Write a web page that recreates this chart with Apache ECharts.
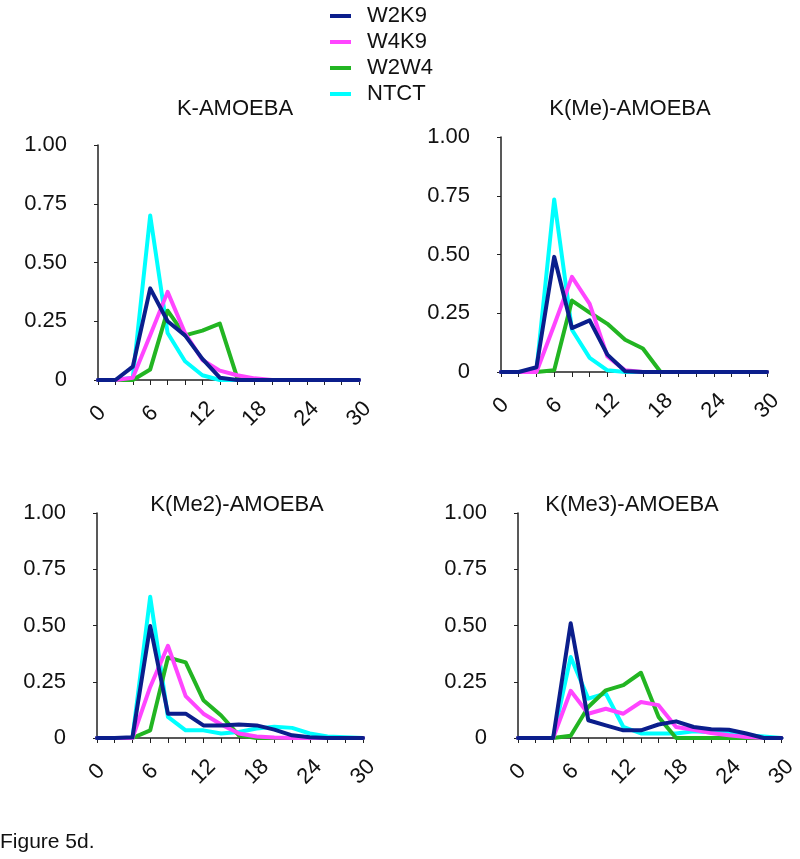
<!DOCTYPE html>
<html>
<head>
<meta charset="utf-8">
<script src="https://cdn.jsdelivr.net/npm/echarts@6/dist/echarts.min.js"></script>
<style>
html,body{margin:0;padding:0;background:#fff;}
#chart{width:800px;height:859px;}
</style>
</head>
<body>
<div id="chart"></div>
<script>
// ---- data ----
var xValues = [0, 2, 4, 6, 8, 10, 12, 14, 16, 18, 20, 22, 24, 26, 28, 30];
var panelTitles = ['K-AMOEBA', 'K(Me)-AMOEBA', 'K(Me2)-AMOEBA', 'K(Me3)-AMOEBA'];
var seriesNames = ['W2K9', 'W4K9', 'W2W4', 'NTCT'];
var yTickLabels = ['0', '0.25', '0.50', '0.75', '1.00'];
var xTickLabels = ['0', '6', '12', '18', '24', '30'];

// K-AMOEBA
var p1_W2K9 = [0, 0, 0.057, 0.39, 0.25, 0.19, 0.09, 0.01, 0, 0, 0, 0, 0, 0, 0, 0];
var p1_W4K9 = [0, 0, 0.01, 0.19, 0.375, 0.2, 0.085, 0.04, 0.02, 0.007, 0, 0, 0, 0, 0, 0];
var p1_W2W4 = [0, 0, 0, 0.045, 0.295, 0.19, 0.21, 0.24, 0.01, 0, 0, 0, 0, 0, 0, 0];
var p1_NTCT = [0, 0, 0.01, 0.70, 0.20, 0.08, 0.02, 0, 0, 0, 0, 0, 0, 0, 0, 0];

// K(Me)-AMOEBA
var p2_W2K9 = [0, 0, 0.02, 0.49, 0.187, 0.22, 0.074, 0.003, 0, 0, 0, 0, 0, 0, 0, 0];
var p2_W4K9 = [0, 0, 0, 0.2, 0.405, 0.29, 0.066, 0.007, 0, 0, 0, 0, 0, 0, 0, 0];
var p2_W2W4 = [0, 0, 0, 0.007, 0.304, 0.253, 0.205, 0.137, 0.10, 0, 0, 0, 0, 0, 0, 0];
var p2_NTCT = [0, 0, 0.007, 0.734, 0.18, 0.06, 0.007, 0, 0, 0, 0, 0, 0, 0, 0, 0];

// K(Me2)-AMOEBA
var p3_W2K9 = [0, 0, 0.003, 0.498, 0.108, 0.108, 0.056, 0.056, 0.06, 0.056, 0.037, 0.012, 0.003, 0, 0, 0];
var p3_W4K9 = [0, 0, 0, 0.227, 0.41, 0.186, 0.108, 0.06, 0.02, 0.007, 0.002, 0, 0, 0, 0, 0];
var p3_W2W4 = [0, 0, 0, 0.034, 0.358, 0.336, 0.168, 0.10, 0.012, 0, 0, 0, 0, 0, 0, 0];
var p3_NTCT = [0, 0, 0, 0.628, 0.094, 0.034, 0.034, 0.02, 0.027, 0.042, 0.05, 0.045, 0.02, 0.007, 0.003, 0];

// K(Me3)-AMOEBA
var p4_W2K9 = [0, 0, 0, 0.51, 0.079, 0.056, 0.034, 0.034, 0.06, 0.074, 0.049, 0.039, 0.037, 0.02, 0, 0];
var p4_W4K9 = [0, 0, 0, 0.21, 0.108, 0.13, 0.108, 0.16, 0.146, 0.049, 0.037, 0.022, 0.012, 0.004, 0, 0];
var p4_W2W4 = [0, 0, 0, 0.01, 0.138, 0.212, 0.235, 0.29, 0.094, 0, 0, 0, 0, 0, 0, 0];
var p4_NTCT = [0, 0, 0, 0.36, 0.175, 0.198, 0.049, 0.02, 0.02, 0.02, 0.03, 0.025, 0.022, 0.012, 0.007, 0];

var panels = [
  {W2K9: p1_W2K9, W4K9: p1_W4K9, W2W4: p1_W2W4, NTCT: p1_NTCT},
  {W2K9: p2_W2K9, W4K9: p2_W4K9, W2W4: p2_W2W4, NTCT: p2_NTCT},
  {W2K9: p3_W2K9, W4K9: p3_W4K9, W2W4: p3_W2W4, NTCT: p3_NTCT},
  {W2K9: p4_W2K9, W4K9: p4_W4K9, W2W4: p4_W2W4, NTCT: p4_NTCT}
];

// ---- styling / layout ----
var colors = {W2K9: '#0b1e8c', W4K9: '#ff45ff', W2W4: '#22b522', NTCT: '#00ffff'};
var drawOrder = ['NTCT', 'W2W4', 'W4K9', 'W2K9'];
var FONT = 'Liberation Sans, Arial, sans-serif';
var FS = 22;
var grids = [
  {left: 98, top: 145, width: 261, height: 235},
  {left: 501, top: 137, width: 266, height: 235},
  {left: 97, top: 513, width: 266, height: 225},
  {left: 518, top: 513, width: 265, height: 225}
];
var titlePos = [
  {cx: 230, top: 93},
  {cx: 625, top: 93},
  {cx: 232, top: 489},
  {cx: 627, top: 489}
];

var axisCol = '#222';
var option = {
  animation: false,
  backgroundColor: '#ffffff',
  textStyle: {fontFamily: FONT},
  title: [],
  grid: [],
  xAxis: [],
  yAxis: [],
  series: [],
  legend: {
    data: seriesNames.map(function (n) { return {name: n, icon: 'rect'}; }),
    orient: 'vertical',
    left: 330,
    top: 5,
    padding: 0,
    itemWidth: 21,
    itemHeight: 4,
    itemGap: 4,
    textStyle: {fontSize: FS, color: '#111', fontFamily: FONT, padding: [0, 0, 0, 11]},
    selectedMode: false
  },
  graphic: [{
    type: 'text', left: 0, top: 832,
    style: {text: 'Figure 5d.', font: '21px ' + FONT, fill: '#111'}
  }]
};

for (var i = 0; i < 4; i++) {
  option.grid.push(grids[i]);
  option.title.push({
    text: panelTitles[i],
    left: titlePos[i].cx, top: titlePos[i].top,
    textAlign: 'center',
    textStyle: {fontSize: FS, fontWeight: 'normal', color: '#111', fontFamily: FONT}
  });
  option.xAxis.push({
    type: 'value', gridIndex: i, min: 0, max: 30, interval: 2,
    axisLine: {show: true, onZero: false, lineStyle: {color: axisCol, width: 1.5}},
    axisTick: {show: true, length: 5, lineStyle: {color: axisCol, width: 1}},
    splitLine: {show: false},
    axisLabel: {
      rotate: 45, margin: 34, fontSize: FS, color: '#111', fontFamily: FONT,
      align: 'center', verticalAlign: 'middle',
      formatter: function (v) {
        var s = String(v);
        return xTickLabels.indexOf(s) >= 0 ? s : '';
      }
    }
  });
  option.yAxis.push({
    type: 'value', gridIndex: i, min: 0, max: 1, interval: 0.25,
    axisLine: {show: true, lineStyle: {color: axisCol, width: 1.5}},
    axisTick: {show: true, length: 4, lineStyle: {color: axisCol, width: 1}},
    splitLine: {show: false},
    axisLabel: {
      margin: 31, fontSize: FS, color: '#111', fontFamily: FONT,
      formatter: function (v) { return yTickLabels[Math.round(v * 4)]; }
    }
  });
  drawOrder.forEach(function (name, k) {
    var ys = panels[i][name];
    option.series.push({
      name: name, type: 'line', xAxisIndex: i, yAxisIndex: i,
      data: xValues.map(function (x, j) { return [x, ys[j]]; }),
      showSymbol: false, symbol: 'none',
      lineStyle: {color: colors[name], width: 4, join: 'round', cap: 'round'},
      itemStyle: {color: colors[name]},
      z: 2 + k,
      clip: false
    });
  });
}

var chart = echarts.init(document.getElementById('chart'), null, {renderer: 'canvas'});
chart.setOption(option);
</script>
</body>
</html>
